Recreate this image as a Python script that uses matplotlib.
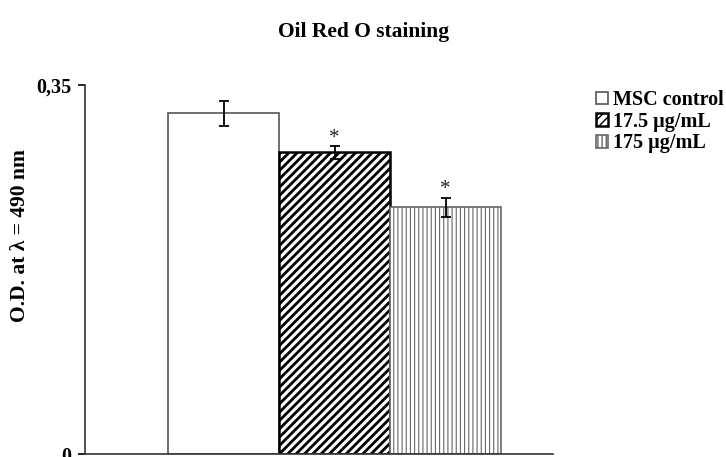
import matplotlib
matplotlib.use("Agg")
import matplotlib.pyplot as plt

# Oil Red O staining quantification
groups = ["MSC control", "17.5 µg/mL", "175 µg/mL"]
od_means = [0.323, 0.286, 0.234]
od_errors = [0.0115, 0.0058, 0.0090]
significant = [False, True, True]
y_ticks = [0, 0.35]
y_tick_labels = ["0", "0,35"]

plt.rcParams["font.family"] = ["Liberation Serif", "DejaVu Serif"]

fig = plt.figure(figsize=(7.26, 4.57), dpi=100)
ax = fig.add_axes([85 / 726, 3 / 457, (553 - 85) / 726, (454 - 85) / 457])

styles = [
    dict(facecolor="white", edgecolor="#555555", hatch=None, lw=1.2, hlw=1.0),
    dict(facecolor="white", edgecolor="black", hatch="////", lw=1.8, hlw=2.0),
    dict(facecolor="white", edgecolor="#666666", hatch="||||", lw=1.2, hlw=0.8),
]

x = list(range(len(groups)))
handles = []
for xi, val, err, st, lab in zip(x, od_means, od_errors, styles, groups):
    with plt.rc_context({"hatch.linewidth": st["hlw"], "hatch.color": "black"}):
        b = ax.bar(xi, val, width=1.0, facecolor=st["facecolor"],
                   edgecolor=st["edgecolor"], hatch=st["hatch"],
                   linewidth=st["lw"], label=lab, zorder=2)
        for p in b.patches:
            if hasattr(p, "set_hatch_linewidth"):
                p.set_hatch_linewidth(st["hlw"])
    handles.append(b)
    ax.errorbar(xi, val, yerr=err, fmt="none", ecolor="black",
                elinewidth=1.3, capsize=3.8, capthick=1.3, zorder=3)

for xi, val, err, sig in zip(x, od_means, od_errors, significant):
    if sig:
        ax.annotate("*", (xi, val + err), xytext=(0, -1),
                    textcoords="offset points", ha="center", va="bottom",
                    fontsize=15, color="#222222")

ax.set_xlim(-1.248, 2.968)
ax.set_ylim(0, 0.35)
ax.set_yticks(y_ticks)
ax.set_yticklabels(y_tick_labels, fontweight="bold", fontsize=14.5)
ax.set_xticks([])
ax.tick_params(axis="y", direction="out", length=5, width=1.2, pad=5)
for side in ("top", "right"):
    ax.spines[side].set_visible(False)
for side in ("left", "bottom"):
    ax.spines[side].set_linewidth(1.2)
    ax.spines[side].set_color("#333333")

ax.set_ylabel("O.D. at λ = 490 nm", fontweight="bold", fontsize=15.5)
ax.yaxis.set_label_coords(-0.118, 0.593)

fig.text(364 / 726, 1 - 32 / 457, "Oil Red O staining", ha="center",
         va="center", fontweight="bold", fontsize=15.5)

leg = fig.legend(handles=handles, labels=groups, loc="upper left",
                 bbox_to_anchor=(596 / 726, 1 - 90 / 457), frameon=False,
                 prop={"weight": "bold", "size": 14.5}, handlelength=0.6,
                 handleheight=0.6, handletextpad=0.25, labelspacing=0.08,
                 borderaxespad=0, borderpad=0)

fig.savefig("out.png", dpi=100)
